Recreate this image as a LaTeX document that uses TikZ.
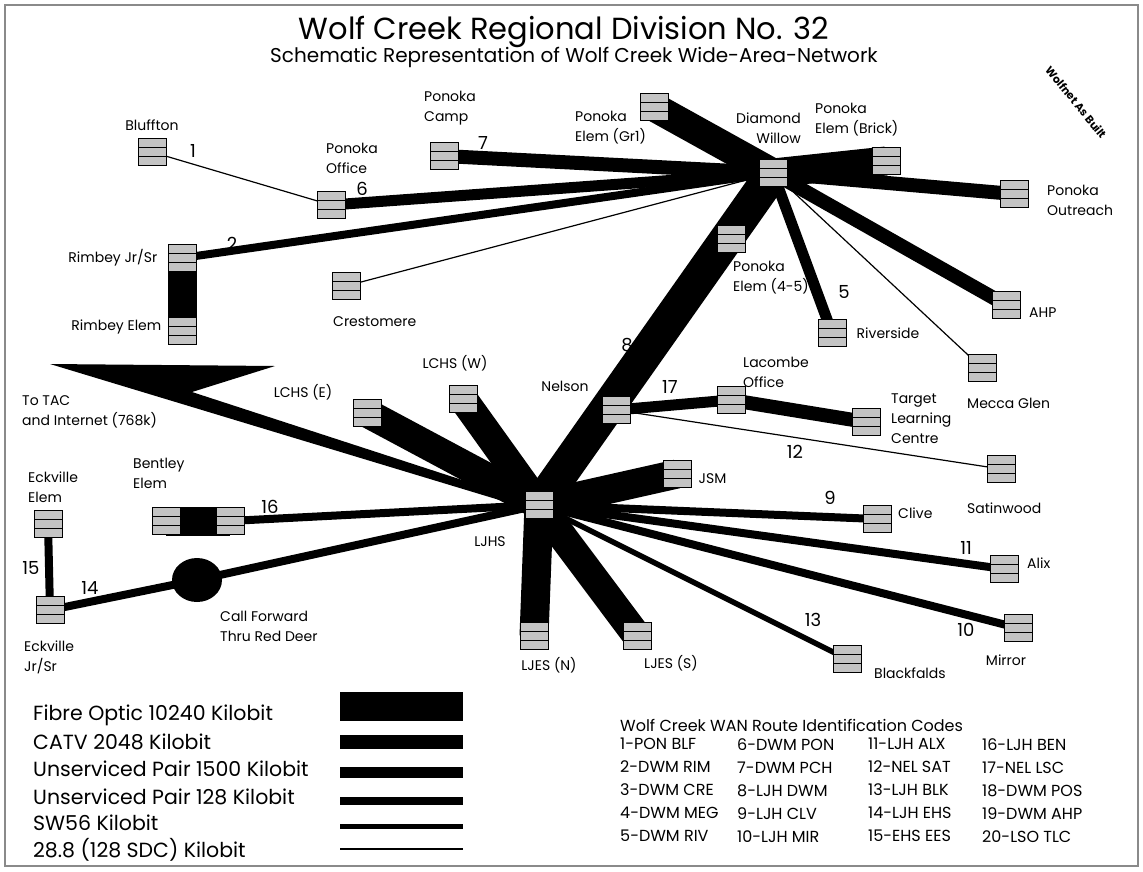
\documentclass[tikz,border=0pt]{standalone}
\usepackage{fontspec}
\setmainfont{Poppins}
\usetikzlibrary{positioning,calc,backgrounds,shapes.geometric}
\definecolor{hatchc}{HTML}{C4C4C4}
\definecolor{framec}{HTML}{8A8A8A}
\tikzset{
  rtr/.style={draw, line width=1pt, fill=hatchc, minimum width=28pt, minimum height=27pt, inner sep=0pt,
    path picture={\foreach \k in {1,2} \draw[line width=1.8pt]
      ($(path picture bounding box.north west)!\k/3!(path picture bounding box.south west)$) --
      ($(path picture bounding box.north east)!\k/3!(path picture bounding box.south east)$);}},
  lbl/.style={inner sep=0pt, align=left, font=\fontsize{14}{20}\selectfont},
  num/.style={inner sep=0pt, font=\fontsize{18}{20}\selectfont},
  leg/.style={inner sep=0pt, anchor=west, font=\fontsize{20.5}{24}\selectfont},
  code/.style={inner sep=0pt, anchor=west, align=left, font=\fontsize{16}{23}\selectfont},
  lfo/.style={line width=29pt},
  lcatv/.style={line width=14pt},
  lup/.style={line width=11pt},
  lupl/.style={line width=8pt},
  lsw/.style={line width=5.5pt},
  lsdc/.style={line width=1.2pt},
}

\begin{document}
\begin{tikzpicture}[x=1pt, y=-1pt]
  \useasboundingbox (0,0) rectangle (1143,871);
  \draw[framec, line width=2pt] (5,5) rectangle (1138,866);
  % headings
  \node[font=\fontsize{30.5}{32}\selectfont] (ttl) at (564,32) {Wolf Creek Regional Division No. 32};
  \node[font=\fontsize{20}{22}\selectfont] (sub) at (574,57) {Schematic Representation of Wolf Creek Wide-Area-Network};
  \node[font=\bfseries\fontsize{11}{13}\selectfont, rotate=-51] (asb) at (1076,102) {Wolfnet As Built};
  % sites
  \foreach \n/\x/\y in {blf/152/152, pof/331/205, pcp/444/156, pgr/654/107, dwl/773/173, pbr/886/161,
      pos/1014/194, rjs/182/258, rel/182/331, cre/346/286, p45/731/239, riv/832/333, ahp/1006/305,
      mgl/982/368, nel/616/410, lso/731/400, tlc/866/422, sat/1001/469, lcw/463/399, lce/367/413,
      ljh/539/505, jsm/677/474, clv/877/519, alx/1004/569, mir/1018/628, blk/847/659, lesn/534/636,
      less/637/636, ben1/166/521, ben2/230/521, eel/48/524, ejs/50/610}
    \node[rtr] (\n) at (\x,\y) {};
  \node[ellipse, fill=black, minimum width=50pt, minimum height=44pt] (cfw) at (197,580) {};
  \coordinate (tac) at (50,364);
  % site names
  \node[lbl, above=7pt of blf] (blfl) {Bluffton};
  \node[lbl, anchor=west] (pofl) at (326,158) {Ponoka\\Office};
  \node[lbl, anchor=west] (pcpl) at (424,108) {Ponoka\\Camp};
  \node[lbl, anchor=west] (pgrl) at (575,128) {Ponoka\\Elem (Gr1)};
  \node[lbl, anchor=east, align=right] (dwll) at (801,128) {Diamond\\Willow};
  \node[lbl, anchor=west] (pbrl) at (815,120) {Ponoka\\Elem (Brick)};
  \node[lbl, anchor=west] (posl) at (1047,200) {Ponoka\\Outreach};
  \node[lbl, left=10pt of rjs] (rjsl) {Rimbey Jr/Sr};
  \node[lbl, left=6pt of rel, yshift=4pt] (rell) {Rimbey Elem};
  \node[lbl, anchor=west] (crel) at (333,322) {Crestomere};
  \node[lbl, anchor=west] (p45l) at (733,278) {Ponoka\\Elem (4-5)};
  \node[lbl, right=10pt of riv] (rivl) {Riverside};
  \node[lbl, anchor=west] (ahpl) at (1029,313) {AHP};
  \node[lbl, anchor=west] (mgll) at (967,403) {Mecca Glen};
  \node[lbl] (nell) at (565,386) {Nelson};
  \node[lbl, anchor=west] (lsol) at (743,372) {Lacombe\\Office};
  \node[lbl, anchor=west] (tlcl) at (891,419) {Target\\Learning\\Centre};
  \node[lbl, anchor=west] (satl) at (967,508) {Satinwood};
  \node[lbl] (lcwl) at (455,363) {LCHS (W)};
  \node[lbl] (lcel) at (303,392) {LCHS (E)};
  \node[lbl, anchor=west] (tacl) at (22,412) {To TAC\\and Internet (768k)};
  \node[lbl, right=7pt of jsm, yshift=-5pt] (jsml) {JSM};
  \node[lbl] (ljhl) at (490,542) {LJHS};
  \node[lbl] (lesnl) at (549,665) {LJES (N)};
  \node[lbl] (lessl) at (671,663) {LJES (S)};
  \node[lbl, anchor=west] (clvl) at (898,513) {Clive};
  \node[lbl, anchor=west] (alxl) at (1027,563) {Alix};
  \node[lbl] (mirl) at (1006,660) {Mirror};
  \node[lbl, anchor=west] (blkl) at (874,673) {Blackfalds};
  \node[lbl, anchor=west] (benl) at (133,473) {Bentley\\Elem};
  \node[lbl, anchor=west] (eell) at (28,487) {Eckville\\Elem};
  \node[lbl, anchor=west] (ejsl) at (24,657) {Eckville\\Jr/Sr};
  \node[lbl, anchor=west] (cfwl) at (220,626) {Call Forward\\Thru Red Deer};
  % route numbers
  \foreach \k/\x/\y in {1/193/151, 6/362/189, 2/232/244, 7/483/143, 5/844/292, 8/627/345, 17/670/387,
      12/795/452, 9/830/498, 11/966/548, 10/966/630, 13/813/620, 16/270/507, 15/31/568, 14/90/588}
    \node[num] (n\k) at (\x,\y) {\k};
  % legend
  \foreach \txt/\ty/\ly/\w in {Fibre Optic 10240 Kilobit/715/706/29, CATV 2048 Kilobit/742/742/14,
      Unserviced Pair 1500 Kilobit/769/772/11, Unserviced Pair 128 Kilobit/797/801/7.5,
      SW56 Kilobit/823/826/5, 28.8 (128 SDC) Kilobit/850/849/1.2} {
    \node[leg] (leg\ty) at (33,\ty) {\txt};
    \draw[line width=\w pt] (340,\ly) -- (463,\ly);
  }
  \node[code] (rtt) at (620,725) {Wolf Creek WAN Route Identification Codes};
  \node[code, anchor=north west] (rc1) at (620,738) {1-PON BLF\\2-DWM RIM\\3-DWM CRE\\4-DWM MEG\\5-DWM RIV};
  \node[code, anchor=north west] (rc2) at (737,738) {6-DWM PON\\7-DWM PCH\\8-LJH DWM\\9-LJH CLV\\10-LJH MIR};
  \node[code, anchor=north west] (rc3) at (868,738) {11-LJH ALX\\12-NEL SAT\\13-LJH BLK\\14-LJH EHS\\15-EHS EES};
  \node[code, anchor=north west] (rc4) at (982,738) {16-LJH BEN\\17-NEL LSC\\18-DWM POS\\19-DWM AHP\\20-LSO TLC};
  % links
  \begin{scope}[on background layer]
    \fill[white] (0,0) rectangle (1143,871);
    \fill (tac) -- (275,366) -- (192,392) -- (ljh.center) -- (539,512) -- cycle;
    \draw[lfo, line width=34pt] (ljh.center) -- (dwl.center);
    \foreach \a/\b in {ljh/lcw, ljh/lce, ljh/lesn, ljh/less, ljh/jsm, dwl/pgr, dwl/pbr, rjs/rel, ben1/ben2}
      \draw[lfo] (\a.center) -- (\b.center);
    \foreach \b in {pcp,pos,ahp} \draw[lcatv] (dwl.center) -- (\b.center);
    \draw[lcatv] (lso.center) -- (tlc.center);
    \foreach \b in {pof,riv} \draw[lup] (dwl.center) -- (\b.center);
    \draw[lup] (nel.center) -- (lso.center);
    \draw[lupl] (dwl.center) -- (rjs.center);
    \foreach \b in {clv,alx,mir,ben2,cfw} \draw[lupl] (ljh.center) -- (\b.center);
    \draw[lupl] (cfw.center) -- (ejs.center);
    \draw[lupl] (eel.center) -- (ejs.center);
    \draw[lsw] (ljh.center) -- (blk.center);
    \draw[lsdc] (blf.center) -- (pof.center);
    \foreach \b in {cre,mgl} \draw[lsdc] (dwl.center) -- (\b.center);
    \draw[lsdc] (nel.center) -- (sat.center);
  \end{scope}
\end{tikzpicture}
\end{document}
